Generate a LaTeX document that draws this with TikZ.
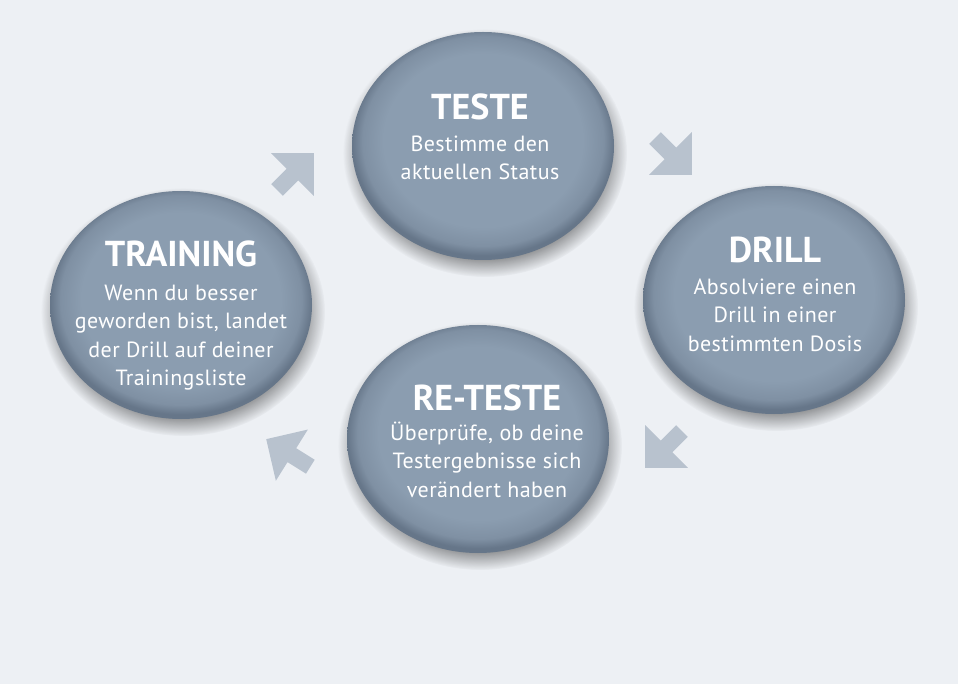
\documentclass[tikz,border=0pt]{standalone}
\usepackage{fontspec}
\setmainfont{PT Sans}
\newfontfamily\pebblefont[LetterSpace=2]{PT Sans}
\usepackage{tikz}
\usetikzlibrary{shapes,arrows}
\usetikzlibrary{shapes.geometric}
\usetikzlibrary{fadings}
\usetikzlibrary{calc}

\definecolor{bgcol}{HTML}{EDF0F4}
\definecolor{arrowcol}{HTML}{B8C2CE}
\definecolor{pebblelight}{HTML}{8B9DB0}
\definecolor{pebblemid}{HTML}{7F90A3}
\definecolor{pebbledark}{HTML}{667689}

\pgfdeclareradialshading{pebbleshade}{\pgfpoint{0bp}{2bp}}{color(0bp)=(pebblelight); color(19bp)=(pebblelight); color(23bp)=(pebblemid); color(25bp)=(pebbledark); color(50bp)=(pebbledark)}

\newcommand{\pebblehead}[1]{{\fontsize{36}{36}\selectfont\normalfont\bfseries #1}}

\tikzset{
pebble/.style={ellipse, minimum width=262pt, minimum height=228pt, inner sep=0pt, shading=pebbleshade},
pebbleshadow/.style={fill=black, opacity=0.38, path fading=circle with fuzzy edge 15 percent},
pebbletext/.style={anchor=north, inner sep=0pt, align=center, text=white, font=\pebblefont\fontsize{22}{28.5}\selectfont},
cyclearrow/.style={single arrow, fill=arrowcol, minimum height=52pt, minimum width=60pt, inner sep=8pt,
  single arrow head extend=22pt, single arrow tip angle=90, anchor=tip}
}

\begin{document}
\begin{tikzpicture}[line cap=round,line join=round,x=1pt,y=-1pt]
\useasboundingbox (0,0) rectangle (958,684);
\fill[bgcol] (0,0) rectangle (958,684);
\coordinate (teste-c) at (483,146);
\coordinate (drill-c) at (774,300);
\coordinate (training-c) at (181,305);
\coordinate (retest-c) at (478,439);
\foreach \c in {teste-c,drill-c,training-c,retest-c}
\fill[pebbleshadow] ($(\c)+(2,7)$) ellipse (142 and 124);
\node[pebble] (teste) at (teste-c) {};
\node[pebble] (drill) at (drill-c) {};
\node[pebble] (training) at (training-c) {};
\node[pebble] (retest) at (retest-c) {};
\node[pebbletext] (teste-txt) at (480,94) {\pebblehead{TESTE}\\[3pt] Bestimme den\\ aktuellen Status};
\node[pebbletext] (drill-txt) at (775,237) {\pebblehead{DRILL}\\[3pt] Absolviere einen\\ Drill in einer\\ bestimmten Dosis};
\node[pebbletext] (training-txt) at (181,241) {\pebblehead{TRAINING}\\[5pt] Wenn du besser\\ geworden bist, landet\\ der Drill auf deiner\\ Trainingsliste};
\node[pebbletext] (retest-txt) at (487,385) {\pebblehead{RE-TESTE}\\[1pt] Überprüfe, ob deine\\ Testergebnisse sich\\ verändert haben};
\node[cyclearrow, rotate=45] (to-teste) at (314,153) {};
\node[cyclearrow, rotate=-45] (to-drill) at (692,175) {};
\node[cyclearrow, rotate=-135] (to-retest) at (645,468) {};
\node[cyclearrow, rotate=148] (to-training) at (266,439) {};
\end{tikzpicture}
\end{document}
